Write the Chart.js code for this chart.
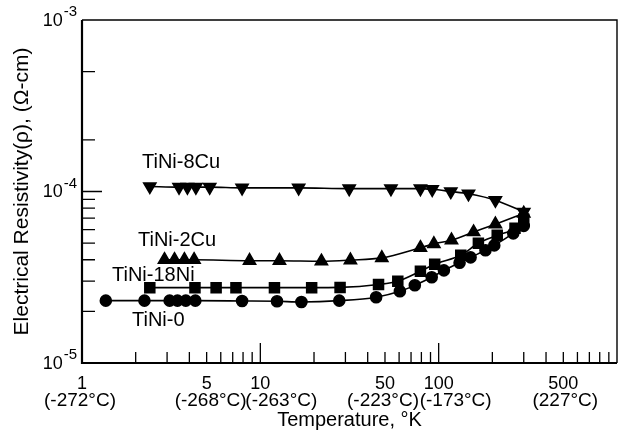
<!DOCTYPE html>
<html lang="en">
  <head>
    <meta charset="UTF-8">
    <script src="https://cdn.jsdelivr.net/npm/chart.js@4.4.0/dist/chart.umd.min.js"></script>
    <style>
      html, body { margin: 0; padding: 0; background: #FFFFFF; }
      .chart-box { width: 626px; height: 435px; }
    </style>
  </head>
  <body>
    <div class="chart-box">
      <canvas id="rhoChart"></canvas>
    </div>

    <script>
      // temperatures (K) and resistivity (ohm-cm)
      const tCu8 = [2.4, 3.5, 3.9, 4.35, 5.2, 7.9, 16.4, 31.5, 54, 79, 92, 117, 147, 208, 300];
      const rhoCu8 = [1.07e-4, 1.06e-4, 1.06e-4, 1.06e-4, 1.06e-4, 1.05e-4, 1.05e-4, 1.04e-4, 1.04e-4, 1.04e-4, 1.03e-4, 1.0e-4, 0.97e-4, 0.89e-4, 0.76e-4];

      const tCu2 = [2.9, 3.3, 3.75, 4.25, 8.7, 12.8, 22, 32, 48, 79, 94, 118, 157, 208, 300];
      const rhoCu2 = [4.0e-5, 4.0e-5, 4.0e-5, 4.0e-5, 3.95e-5, 3.95e-5, 3.92e-5, 3.98e-5, 4.1e-5, 4.7e-5, 4.95e-5, 5.2e-5, 5.8e-5, 6.45e-5, 7.45e-5];

      const tNi18 = [2.4, 4.3, 5.65, 7.3, 12, 19.4, 28, 46, 59, 79, 95, 133, 167, 213, 268, 300];
      const rhoNi18 = [2.75e-5, 2.75e-5, 2.75e-5, 2.75e-5, 2.75e-5, 2.75e-5, 2.76e-5, 2.87e-5, 3.0e-5, 3.43e-5, 3.77e-5, 4.25e-5, 4.99e-5, 5.55e-5, 6.1e-5, 6.9e-5];

      const tNi0 = [1.36, 2.24, 3.1, 3.43, 3.82, 4.32, 7.9, 12.4, 17, 27.7, 44.6, 60.6, 73.5, 91.4, 107, 131, 151, 183, 205, 262, 300];
      const rhoNi0 = [2.31e-5, 2.31e-5, 2.31e-5, 2.31e-5, 2.31e-5, 2.31e-5, 2.3e-5, 2.29e-5, 2.27e-5, 2.31e-5, 2.42e-5, 2.62e-5, 2.84e-5, 3.16e-5, 3.47e-5, 3.84e-5, 4.13e-5, 4.54e-5, 4.85e-5, 5.7e-5, 6.3e-5];

      const seriesNames = ['TiNi-8Cu', 'TiNi-2Cu', 'TiNi-18Ni', 'TiNi-0'];

      // axis labels and tick marks
      const xLabelValues = [1, 5, 10, 50, 100, 500];
      const xLabelText = ['1', '5', '10', '50', '100', '500'];
      const xCelsius = ['(-272°C)', '(-268°C)', '(-263°C)', '(-223°C)', '(-173°C)', '(227°C)'];
      const xMajorTicks = [10, 100];
      const xMinorTicks = [2, 3, 4, 5, 6, 7, 8, 9, 20, 30, 40, 50, 60, 70, 80, 90, 200, 300, 400, 500, 600, 700, 800, 900];
      const yLabelValues = [1e-5, 1e-4, 1e-3];
      const yLabelExp = ['-5', '-4', '-3'];
      const yMajorTicks = [1e-4];
      const yMinorTicks = [2e-5, 3e-5, 4e-5, 5e-5, 6e-5, 7e-5, 8e-5, 9e-5, 2e-4, 5e-4];

      const FONT = "'Liberation Sans', Arial, sans-serif";

      function pts(xs, ys) {
        return xs.map((x, i) => ({ x: x, y: ys[i] }));
      }

      // frame, inward ticks, celsius row, y labels and curve names
      const extras = {
        id: 'extras',
        afterDraw(chart) {
          const ctx = chart.ctx;
          const a = chart.chartArea;
          const xs = chart.scales.x;
          const ys = chart.scales.y;
          ctx.save();
          ctx.strokeStyle = '#000';

          ctx.lineWidth = 1.4;
          ctx.beginPath();
          ctx.moveTo(a.left, a.top); ctx.lineTo(a.right, a.top); ctx.lineTo(a.right, a.bottom);
          ctx.stroke();
          ctx.lineWidth = 2.2;
          ctx.beginPath();
          ctx.moveTo(a.left, a.top); ctx.lineTo(a.left, a.bottom); ctx.lineTo(a.right, a.bottom);
          ctx.stroke();

          ctx.lineWidth = 1.3;
          ctx.beginPath();
          xMinorTicks.forEach(v => { const p = xs.getPixelForValue(v); ctx.moveTo(p, a.bottom); ctx.lineTo(p, a.bottom - 11); });
          xMajorTicks.forEach(v => { const p = xs.getPixelForValue(v); ctx.moveTo(p, a.bottom); ctx.lineTo(p, a.bottom - 20); });
          yMinorTicks.forEach(v => { const p = ys.getPixelForValue(v); ctx.moveTo(a.left, p); ctx.lineTo(a.left + 13, p); });
          yMajorTicks.forEach(v => { const p = ys.getPixelForValue(v); ctx.moveTo(a.left, p); ctx.lineTo(a.left + 20, p); });
          ctx.stroke();

          ctx.fillStyle = '#000';
          ctx.textAlign = 'center';
          ctx.textBaseline = 'middle';
          ctx.font = '19px ' + FONT;
          const cShift = [-2, 4, 21, -2, 17, 2];
          xLabelValues.forEach((v, i) => {
            ctx.fillText(xCelsius[i], xs.getPixelForValue(v) + cShift[i], a.bottom + 38);
          });

          // 10 with raised exponent
          yLabelValues.forEach((v, i) => {
            const p = ys.getPixelForValue(v);
            ctx.textAlign = 'right';
            ctx.font = '15px ' + FONT;
            ctx.fillText(yLabelExp[i], a.left - 5, p - 8);
            const ew = ctx.measureText(yLabelExp[i]).width;
            ctx.font = '18px ' + FONT;
            ctx.fillText('10', a.left - 6 - ew, p + 1);
          });

          ctx.textAlign = 'left';
          ctx.font = '20px ' + FONT;
          const namePos = [[142, 162], [138, 240], [112, 275], [132, 320]];
          seriesNames.forEach((n, i) => ctx.fillText(n, namePos[i][0], namePos[i][1]));
          ctx.restore();
        }
      };

      const common = {
        showLine: true,
        borderColor: '#000',
        backgroundColor: '#000',
        pointBackgroundColor: '#000',
        pointBorderColor: '#000',
        borderWidth: 1.6,
        cubicInterpolationMode: 'monotone'
      };

      new Chart(document.getElementById('rhoChart'), {
        type: 'scatter',
        data: {
          datasets: [
            Object.assign({ label: seriesNames[0], data: pts(tCu8, rhoCu8), pointStyle: 'triangle', pointRotation: 180, pointRadius: 7 }, common),
            Object.assign({ label: seriesNames[1], data: pts(tCu2, rhoCu2), pointStyle: 'triangle', pointRadius: 7 }, common),
            Object.assign({ label: seriesNames[2], data: pts(tNi18, rhoNi18), pointStyle: 'rect', pointRadius: 7 }, common),
            Object.assign({ label: seriesNames[3], data: pts(tNi0, rhoNi0), pointStyle: 'circle', pointRadius: 5.5 }, common)
          ]
        },
        options: {
          responsive: true,
          maintainAspectRatio: false,
          animation: false,
          layout: { padding: { left: 0, top: 20, right: 9, bottom: 0 } },
          plugins: { legend: { display: false }, tooltip: { enabled: false } },
          scales: {
            x: {
              type: 'logarithmic',
              min: 1,
              max: 1000,
              grid: { display: false, drawTicks: false },
              border: { display: false },
              afterBuildTicks: s => { s.ticks = xLabelValues.map(v => ({ value: v })); },
              afterFit: s => { s.height = 72; },
              ticks: {
                autoSkip: false,
                maxRotation: 0,
                padding: 10,
                color: '#000',
                font: { family: FONT, size: 18 },
                callback: (v, i) => xLabelText[i]
              },
              title: {
                display: true,
                text: 'Temperature, °K',
                color: '#000',
                font: { family: FONT, size: 20 },
                padding: { top: 0, bottom: 3 }
              }
            },
            y: {
              type: 'logarithmic',
              min: 1e-5,
              max: 1e-3,
              grid: { display: false, drawTicks: false },
              border: { display: false },
              afterBuildTicks: s => { s.ticks = yLabelValues.map(v => ({ value: v })); },
              afterFit: s => { s.width = 82; },
              ticks: { display: false },
              title: {
                display: true,
                text: 'Electrical Resistivity(ρ), (Ω-cm)',
                color: '#000',
                font: { family: FONT, size: 21 },
                padding: { top: 10, bottom: 0 }
              }
            }
          }
        },
        plugins: [extras]
      });
    </script>
  </body>
</html>
